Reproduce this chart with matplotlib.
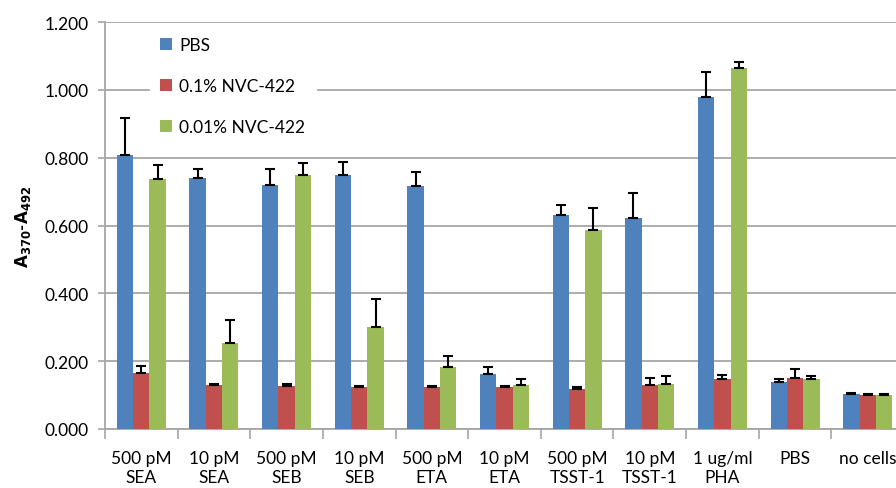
import matplotlib
matplotlib.use("Agg")
import matplotlib.pyplot as plt
import numpy as np

plt.rcParams['font.family'] = ['Lato', 'DejaVu Sans']

categories = ["500 pM\nSEA", "10 pM\nSEA", "500 pM\nSEB", "10 pM\nSEB", "500 pM\nETA",
              "10 pM\nETA", "500 pM\nTSST-1", "10 pM\nTSST-1", "1 ug/ml\nPHA", "PBS", "no cells"]
series_names = ["PBS", "0.1% NVC-422", "0.01% NVC-422"]

pbs = [0.807, 0.739, 0.718, 0.748, 0.717, 0.163, 0.630, 0.622, 0.978, 0.138, 0.103]
nvc_01 = [0.165, 0.130, 0.127, 0.123, 0.124, 0.124, 0.119, 0.131, 0.147, 0.151, 0.101]
nvc_001 = [0.738, 0.255, 0.749, 0.302, 0.182, 0.131, 0.587, 0.134, 1.064, 0.146, 0.100]

pbs_err = [0.110, 0.028, 0.049, 0.038, 0.042, 0.021, 0.030, 0.075, 0.074, 0.009, 0.002]
nvc_01_err = [0.022, 0.004, 0.005, 0.003, 0.004, 0.004, 0.004, 0.018, 0.012, 0.025, 0.002]
nvc_001_err = [0.040, 0.065, 0.034, 0.082, 0.033, 0.015, 0.066, 0.022, 0.018, 0.011, 0.002]

colors = ["#4F81BD", "#C0504D", "#9BBB59"]

fig = plt.figure(figsize=(8.96, 4.89), dpi=100)
ax = fig.add_axes([105/896, 1 - 430/489, (904 - 105)/896, (430 - 23)/489])

x = np.arange(len(categories))
w = 0.225
for i, (vals, errs) in enumerate([(pbs, pbs_err), (nvc_01, nvc_01_err), (nvc_001, nvc_001_err)]):
    ax.bar(x + (i - 1) * w, vals, w, color=colors[i], label=series_names[i], zorder=3,
           yerr=[np.zeros(len(errs)), errs],
           error_kw=dict(ecolor="black", elinewidth=1.5, capsize=3.5, capthick=1.5, zorder=4))

ax.set_xlim(-0.5, len(categories) - 0.5)
ax.set_ylim(0, 1.2)
ax.set_yticks(np.arange(0, 1.21, 0.2))
ax.set_yticklabels([f"{v:.3f}" for v in np.arange(0, 1.21, 0.2)], fontsize=12.5)
ax.yaxis.grid(True, color="#A6A6A6", linewidth=1.3, zorder=0)
ax.set_axisbelow(True)

ax.set_xticks(x)
ax.set_xticklabels(categories, fontsize=12.5, linespacing=1.25)
ax.set_xticks(np.arange(-0.5, len(categories), 1.0), minor=True)
ax.tick_params(axis="x", which="major", length=0, pad=15)
ax.tick_params(axis="x", which="minor", length=7, width=1.2, color="#A6A6A6")
ax.tick_params(axis="y", length=5, width=1.2, color="#A6A6A6", pad=7)

for s in ["top", "right"]:
    ax.spines[s].set_visible(False)
for s in ["left", "bottom"]:
    ax.spines[s].set_color("#A6A6A6")
    ax.spines[s].set_linewidth(1.3)

ax.set_ylabel(r"$\mathbf{A_{370}}$-$\mathbf{A_{492}}$", fontsize=12, fontweight="bold", labelpad=8)

leg = ax.legend(loc="upper left", bbox_to_anchor=(0.045, 1.01), frameon=True, fontsize=12.5,
                labelspacing=1.45, handlelength=0.7, handleheight=0.7, handletextpad=0.4,
                borderpad=0.6, fancybox=False)
leg.get_frame().set_edgecolor("white")
leg.get_frame().set_facecolor("white")
leg.get_frame().set_alpha(1.0)

fig.savefig("out.png", dpi=100)
